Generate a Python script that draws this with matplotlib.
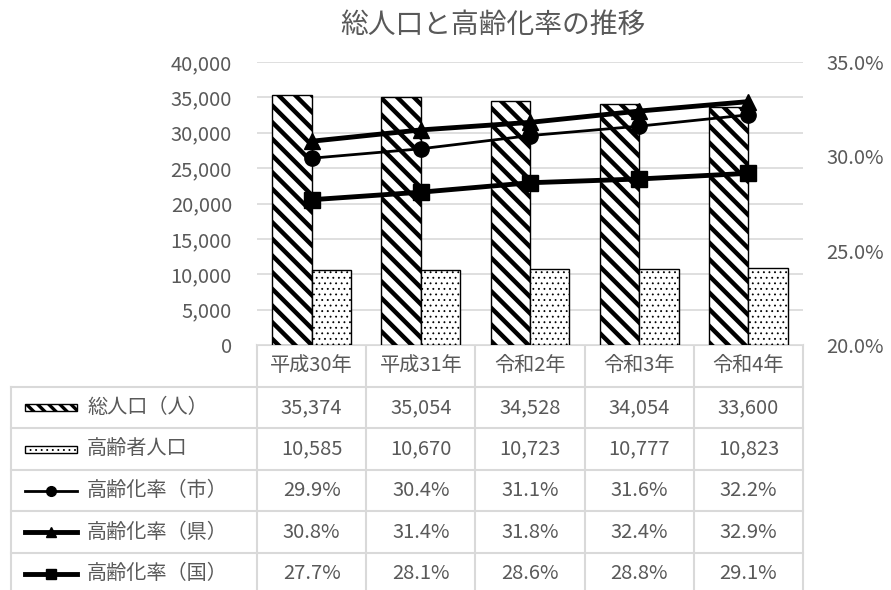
import numpy as np
import matplotlib.pyplot as plt
from matplotlib.patches import Rectangle
from matplotlib.lines import Line2D
from matplotlib.ticker import FuncFormatter, MultipleLocator

plt.rcParams['font.family'] = ['Noto Sans CJK JP', 'DejaVu Sans']

years = ['平成30年', '平成31年', '令和2年', '令和3年', '令和4年']
total_pop = [35374, 35054, 34528, 34054, 33600]
elderly_pop = [10585, 10670, 10723, 10777, 10823]
rate_city = [29.9, 30.4, 31.1, 31.6, 32.2]
rate_pref = [30.8, 31.4, 31.8, 32.4, 32.9]
rate_nation = [27.7, 28.1, 28.6, 28.8, 29.1]

GRAY = '#595959'
GRID = '#d9d9d9'
W, H = 891, 590

fig = plt.figure(figsize=(W / 100, H / 100), dpi=100)

# plot area in pixels
px0, px1 = 257, 803
py_top, py_bot = 62, 345
ax = fig.add_axes([px0 / W, 1 - py_bot / H, (px1 - px0) / W, (py_bot - py_top) / H])
ax2 = ax.twinx()

x = np.arange(len(years))
bw = 0.36
with plt.rc_context({'hatch.linewidth': 3.2}):
    ax.bar(x - bw / 2, total_pop, bw, color='white', edgecolor='black',
           linewidth=1.0, hatch='\\\\', zorder=2)
with plt.rc_context({'hatch.linewidth': 0.6}):
    ax.bar(x + bw / 2, elderly_pop, bw, color='white', edgecolor='black',
           linewidth=1.0, hatch='...', zorder=2)

ax.set_xlim(-0.5, len(years) - 0.5)
ax.set_ylim(0, 40000)
ax.yaxis.set_major_locator(MultipleLocator(5000))
ax.yaxis.set_major_formatter(FuncFormatter(lambda v, p: f'{int(v):,}'))
ax.grid(axis='y', color=GRID, linewidth=1.2, zorder=0)
ax.set_axisbelow(True)
ax.set_xticks([])
ax.tick_params(axis='y', length=0, pad=18, labelsize=14.5, labelcolor=GRAY)

line_styles = [
    (rate_city, 'o', 2.0, 11),
    (rate_pref, '^', 3.5, 12),
    (rate_nation, 's', 3.5, 11),
]
for vals, mk, lw, ms in line_styles:
    ax2.plot(x, vals, color='black', marker=mk, linewidth=lw, markersize=ms, zorder=3)

ax2.set_ylim(20, 35)
ax2.yaxis.set_major_locator(MultipleLocator(5))
ax2.yaxis.set_major_formatter(FuncFormatter(lambda v, p: f'{v:.1f}%'))
ax2.tick_params(axis='y', length=0, pad=17, labelsize=14.5, labelcolor=GRAY)

for a in (ax, ax2):
    for s in a.spines.values():
        s.set_visible(False)

fig.text(493 / W, 1 - 25 / H, '総人口と高齢化率の推移', ha='center', va='center',
         fontsize=20, color=GRAY)

# data table underneath, laid out in pixel coordinates
tab = fig.add_axes([0, 0, 1, 1], zorder=-1)
tab.set_xlim(0, W)
tab.set_ylim(H, 0)
tab.axis('off')

left = 11
col_w = (px1 - px0) / len(years)
row_h = 41.6
n_rows = 5
bottom = py_bot + row_h * (n_rows + 1)

tab.plot([px0, px1], [py_bot, py_bot], color=GRID, lw=1.5)
for r in range(1, n_rows + 1):
    y = py_bot + row_h * r
    tab.plot([left, px1], [y, y], color=GRID, lw=1.5)
tab.plot([left, left], [py_bot + row_h, bottom], color=GRID, lw=1.5)
for c in range(len(years) + 1):
    xc = px0 + col_w * c
    tab.plot([xc, xc], [py_bot, bottom], color=GRID, lw=1.5)

for c, yr in enumerate(years):
    tab.text(px0 + col_w * (c + 0.5), py_bot + row_h / 2, yr,
             ha='center', va='center', fontsize=14.5, color=GRAY)

row_labels = ['総人口（人）', '高齢者人口', '高齢化率（市）', '高齢化率（県）', '高齢化率（国）']
row_values = [
    [f'{v:,}' for v in total_pop],
    [f'{v:,}' for v in elderly_pop],
    [f'{v:.1f}%' for v in rate_city],
    [f'{v:.1f}%' for v in rate_pref],
    [f'{v:.1f}%' for v in rate_nation],
]
key_x0, key_x1 = 25, 77
for r, (lab, vals) in enumerate(zip(row_labels, row_values)):
    yc = py_bot + row_h * (r + 1.5)
    tab.text(87, yc, lab, ha='left', va='center', fontsize=14.5, color=GRAY)
    for c, v in enumerate(vals):
        tab.text(px0 + col_w * (c + 0.5), yc, v, ha='center', va='center',
                 fontsize=14.5, color=GRAY)
    if r == 0:
        with plt.rc_context({'hatch.linewidth': 2.4}):
            tab.add_patch(Rectangle((key_x0, yc - 3.5), key_x1 - key_x0, 7,
                                    facecolor='white', edgecolor='black', lw=1.0,
                                    hatch='\\\\\\'))
    elif r == 1:
        with plt.rc_context({'hatch.linewidth': 0.6}):
            tab.add_patch(Rectangle((key_x0, yc - 3.5), key_x1 - key_x0, 7,
                                    facecolor='white', edgecolor='black', lw=1.0,
                                    hatch='...'))
    else:
        vals_, mk, lw, ms = line_styles[r - 2]
        tab.add_line(Line2D([key_x0, key_x1], [yc, yc], color='black', lw=lw,
                            marker=None))
        tab.plot([(key_x0 + key_x1) / 2], [yc], marker=mk, color='black',
                 markersize=7)

fig.savefig('out.png', dpi=100)
